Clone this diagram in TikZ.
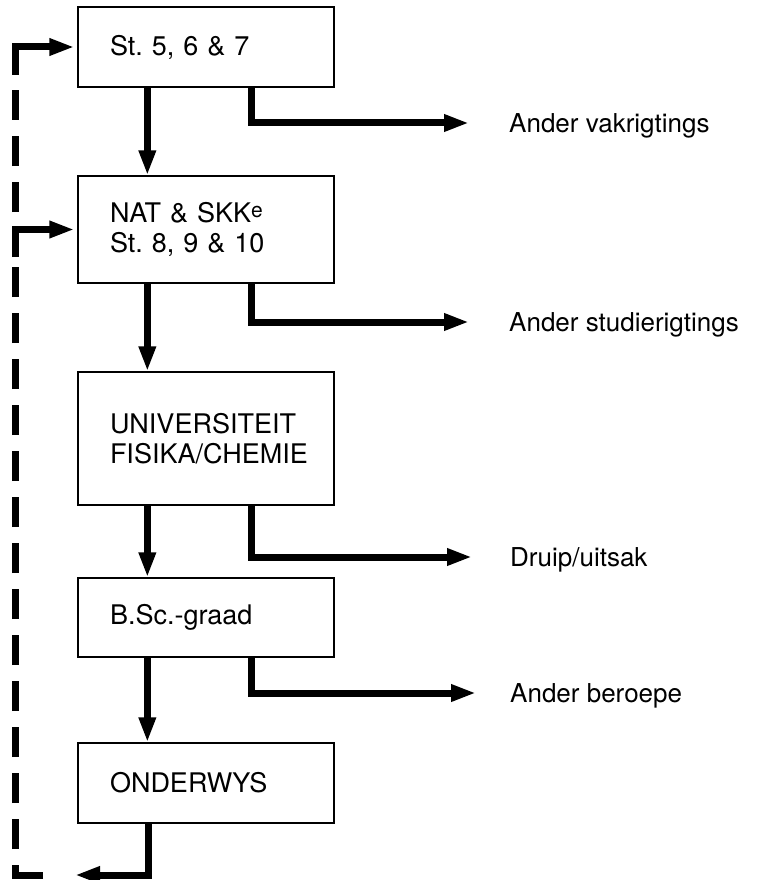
\documentclass[tikz,border=0pt]{standalone}
\usepackage{fontspec}
\setmainfont{TeX Gyre Heros}
\usetikzlibrary{arrows.meta}
\frenchspacing
\begin{document}
\begin{tikzpicture}[x=1pt,y=-1pt,
  box/.style={draw,line width=1.3pt,rectangle,minimum width=256pt,inner xsep=32pt,inner ysep=0pt,text width=192pt,align=left,font=\fontsize{27}{30}\selectfont},
  lab/.style={anchor=west,inner sep=0pt,text height=18.7pt,text depth=0pt,font=\fontsize{26}{30}\selectfont},
  flowarrow/.style={line width=7pt,-{Triangle[length=25pt,width=16pt]}},
  fbline/.style={line width=7pt},
  fbdash/.style={line width=7pt,dash pattern=on 30pt off 16pt,dash phase=30pt}
]
\useasboundingbox (0,0) rectangle (781,880);

% boxes
\node[box,minimum height=80pt]  (b1) at (206,47)    {St. 5, 6 \& 7};
\node[box,minimum height=107pt] (b2) at (206,229.5) {NAT \& SKK\raisebox{5pt}{\fontsize{21}{21}\selectfont e}\\St. 8, 9 \& 10};
\node[box,minimum height=133pt] (b3) at (206,438.5) {UNIVERSITEIT\\FISIKA/CHEMIE};
\node[box,minimum height=79pt]  (b4) at (206,617.5) {B.Sc.-graad};
\node[box,minimum height=80pt]  (b5) at (206,783)   {ONDERWYS};

% labels
\node[lab] (l1) at (509,123) {Ander vakrigtings};
\node[lab] (l2) at (509,322) {Ander studierigtings};
\node[lab] (l3) at (510,557) {Druip/uitsak};
\node[lab] (l4) at (510,693) {Ander beroepe};

% main down arrows
\draw[flowarrow] ([xshift=70pt]b1.south west) -- ([xshift=70pt]b2.north west);
\draw[flowarrow] ([xshift=70pt]b2.south west) -- ([xshift=70pt]b3.north west);
\draw[flowarrow] ([xshift=70pt]b3.south west) -- ([xshift=70pt]b4.north west);
\draw[flowarrow] ([xshift=70pt]b4.south west) -- ([xshift=70pt]b5.north west);

% branch arrows
\draw[flowarrow] ([xshift=174pt]b1.south west) |- ([xshift=-40pt]l1.west);
\draw[flowarrow] ([xshift=174pt]b2.south west) |- ([xshift=-40pt]l2.west);
\draw[flowarrow] ([xshift=174pt]b3.south west) |- ([xshift=-38pt]l3.west);
\draw[flowarrow] ([xshift=174pt]b4.south west) |- ([xshift=-34pt]l4.west);

% return from ONDERWYS
\coordinate (ret) at (75,875);
\draw[flowarrow] ([xshift=71pt]b5.south west) |- (ret);

% feedback dashed line
\coordinate (fa) at (43,875);
\coordinate (fb) at (15,865);
\coordinate (fc) at (15,257);
\coordinate (fd) at (15,228);
\coordinate (fe) at (15,75);
\draw[fbline] (fa) -| (fb);
\draw[fbdash] (fb) -- (fc);
\draw[fbdash] (fd) -- (fe);
\draw[flowarrow,shorten >=3pt] (fc) |- (b2.west);
\draw[flowarrow,shorten >=3pt] (fe) |- (b1.west);
\end{tikzpicture}
\end{document}
